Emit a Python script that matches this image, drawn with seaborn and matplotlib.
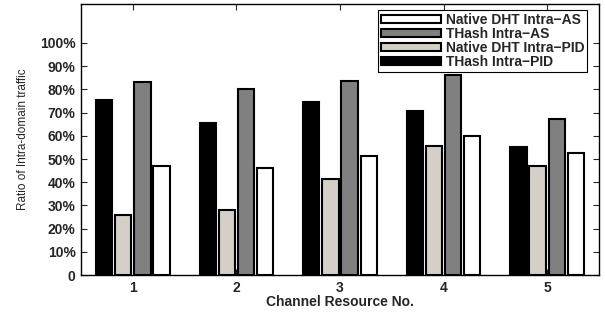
import numpy as np
import pandas as pd
import matplotlib
matplotlib.use("Agg")
import matplotlib.pyplot as plt
import seaborn as sns

channels = ["1", "2", "3", "4", "5"]
series = ["THash Intra-PID", "Native DHT Intra-PID", "THash Intra-AS", "Native DHT Intra-AS"]
legend_labels = ["THash Intra\u2212PID", "Native DHT Intra\u2212PID", "THash Intra\u2212AS", "Native DHT Intra\u2212AS"]

thash_pid = [0.755, 0.655, 0.745, 0.705, 0.552]
native_pid = [0.260, 0.279, 0.416, 0.557, 0.472]
thash_as = [0.832, 0.801, 0.834, 0.860, 0.672]
native_as = [0.468, 0.460, 0.514, 0.598, 0.528]

colors = ["#000000", "#d4d0c8", "#808080", "#ffffff"]

df = pd.DataFrame({
    "channel": channels * 4,
    "series": np.repeat(series, len(channels)),
    "value": thash_pid + native_pid + thash_as + native_as,
})

sns.set_style("white")
plt.rcParams["font.family"] = ["Liberation Sans", "DejaVu Sans"]

fig = plt.figure(figsize=(6.05, 3.12), dpi=100)
ax = fig.add_axes([0.134, 0.118, 0.856, 0.869])

sns.barplot(data=df, x="channel", y="value", hue="series", hue_order=series,
            palette=colors, width=0.74, gap=0.15, edgecolor="black",
            linewidth=1.5, saturation=1, ax=ax)

ax.set_xlim(-0.5, 4.5)
ax.set_ylim(0, 1.167)
yt = np.arange(0, 1.01, 0.1)
ax.set_yticks(yt)
ax.set_yticklabels(["0"] + [f"{int(round(v * 100))}%" for v in yt[1:]],
                   fontsize=10, fontweight="bold")
ax.set_xticks(range(5))
ax.set_xticklabels(channels, fontsize=10, fontweight="bold")
ax.tick_params(direction="in", length=4, width=0.8, top=True, right=True,
               bottom=True, left=True, pad=4)
for s in ax.spines.values():
    s.set_color("black")
    s.set_linewidth(1.0)

ax.set_xlabel("Channel Resource No.", fontsize=10, fontweight="bold", labelpad=0)
ax.set_ylabel("Ratio of Intra-domain traffic", fontsize=8.5, labelpad=8)

handles, _ = ax.get_legend_handles_labels()
leg = ax.legend(handles[::-1], legend_labels[::-1], loc="upper right",
                bbox_to_anchor=(0.977, 0.978), fancybox=False, framealpha=1,
                edgecolor="black", prop={"weight": "bold", "size": 10},
                handlelength=4.3, handleheight=0.55, handletextpad=0.35,
                labelspacing=0.0, borderpad=0.2, borderaxespad=0)
leg.get_frame().set_linewidth(0.8)

fig.savefig("out.png", dpi=100)
